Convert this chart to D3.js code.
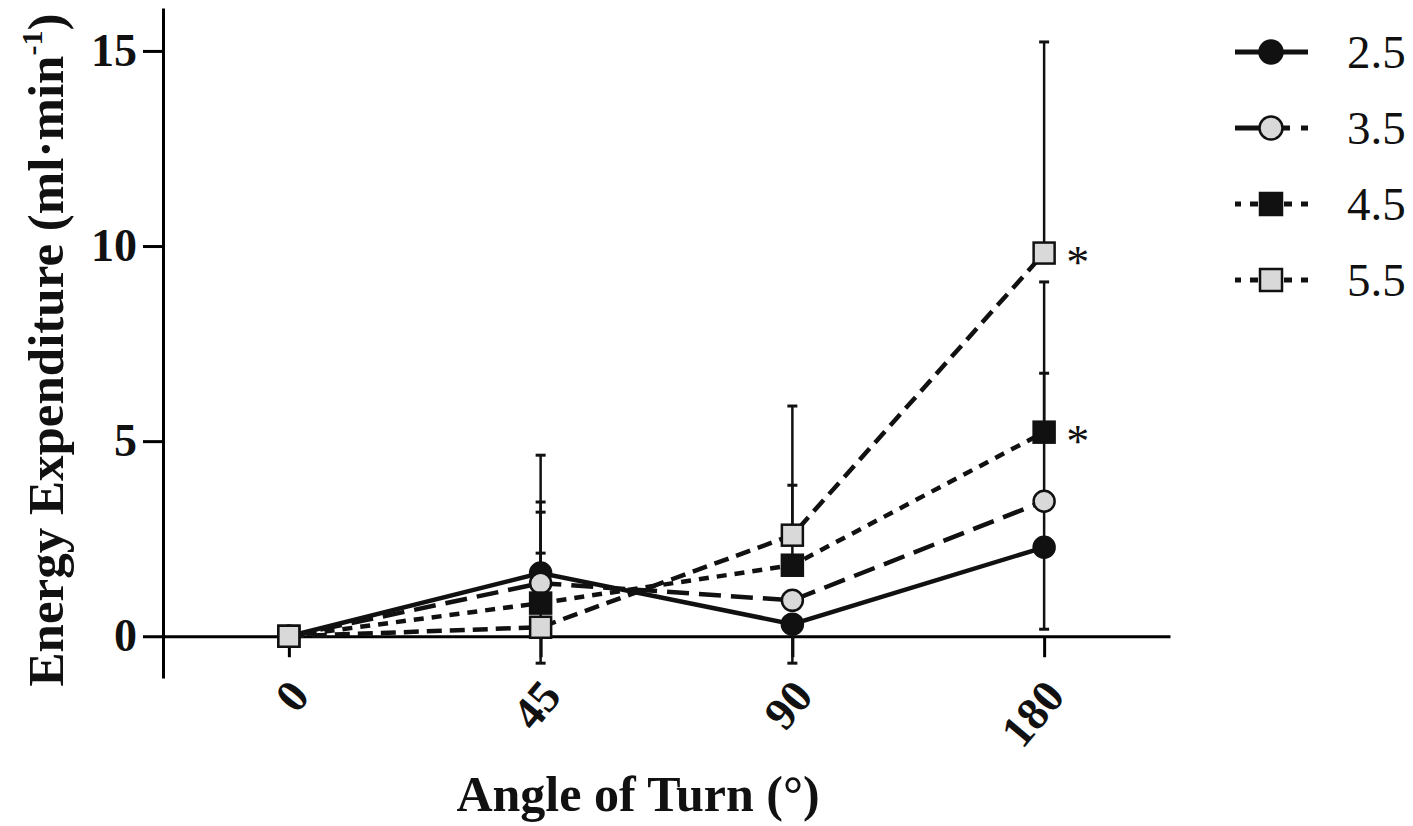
<!DOCTYPE html>
<html>
<head>
<meta charset="utf-8">
<script src="https://cdn.jsdelivr.net/npm/d3@7"></script>
<style>
  body { margin: 0; background: #fff; }
  svg { display: block; }
</style>
</head>
<body>
<div id="chart"></div>
<script>
// angles of turn and the four walking speeds
let angles = ["0", "45", "90", "180"];
let speeds = ["2.5", "3.5", "4.5", "5.5"];

// mean energy expenditure per speed, in angle order
let mean25 = [0, 1.62, 0.31, 2.28];
let mean35 = [0, 1.36, 0.92, 3.46];
let mean45 = [0, 0.85, 1.82, 5.23];
let mean55 = [0, 0.23, 2.59, 9.82];

// error bar ends [low, high]
let err25 = [[0, 0], [1.62, 2.13], [-0.69, 0.31], [2.28, 2.28]];
let err35 = [[0, 0], [1.36, 3.18], [0.92, 0.92], [0.18, 6.74]];
let err45 = [[0, 0], [0.85, 3.44], [1.82, 3.87], [5.23, 9.08]];
let err55 = [[0, 0], [-0.69, 4.64], [2.59, 5.9], [9.82, 15.23]];

let yTicks = [0, 5, 10, 15];
let starred = [{ speed: "4.5", angle: "180" }, { speed: "5.5", angle: "180" }];

let series = [
    { name: "2.5", values: mean25, err: err25, shape: "circle", fill: "#111", dash: null, legendDash: null },
    { name: "3.5", values: mean35, err: err35, shape: "circle", fill: "#d9d9d9", dash: "22,10", legendDash: "55,11" },
    { name: "4.5", values: mean45, err: err45, shape: "square", fill: "#111", dash: "10,8", legendDash: "8,9" },
    { name: "5.5", values: mean55, err: err55, shape: "square", fill: "#d9d9d9", dash: "15,8", legendDash: "8,9" }
];

let W = 1413, H = 826;
let serif = "'Liberation Serif', 'Times New Roman', serif";

let svg = d3.select("#chart").append("svg")
    .attr("width", W)
    .attr("height", H);

let x = d3.scalePoint().domain(angles).range([163, 1170]).padding(0.5);
let y = d3.scaleLinear().domain([-1.07, 16.1]).range([678, 8]);

// y axis
let yAxis = svg.append("g")
    .attr("transform", "translate(163,0)")
    .call(d3.axisLeft(y).tickValues(yTicks).tickSize(20).tickSizeOuter(0).tickPadding(6));
yAxis.select(".domain").attr("stroke-width", 3);
yAxis.selectAll(".tick line").attr("stroke-width", 3);
yAxis.selectAll(".tick text")
    .style("font-family", serif)
    .style("font-weight", "bold")
    .style("font-size", "46px")
    .attr("fill", "#111");

// x axis sits on zero
let xAxis = svg.append("g")
    .attr("transform", "translate(0," + y(0) + ")")
    .call(d3.axisBottom(x).tickSize(21).tickSizeOuter(0).tickPadding(0));
xAxis.select(".domain").attr("stroke-width", 3);
xAxis.selectAll(".tick line").attr("stroke-width", 3);
xAxis.selectAll(".tick text")
    .style("font-family", serif)
    .style("font-weight", "bold")
    .style("font-size", "46px")
    .attr("fill", "#111")
    .attr("text-anchor", "end")
    .attr("y", 0)
    .attr("dy", 0)
    .attr("transform", "translate(22,61) rotate(-50)");

// axis titles
svg.append("text")
    .attr("x", 638)
    .attr("y", 811)
    .attr("text-anchor", "middle")
    .style("font-family", serif)
    .style("font-weight", "bold")
    .style("font-size", "50px")
    .attr("fill", "#111")
    .text("Angle of Turn (°)");

let yTitle = svg.append("text")
    .attr("transform", "translate(63,350) rotate(-90)")
    .attr("text-anchor", "middle")
    .style("font-family", serif)
    .style("font-weight", "bold")
    .style("font-size", "51px")
    .attr("fill", "#111");
yTitle.append("tspan").text("Energy Expenditure (ml·min");
yTitle.append("tspan").attr("dy", "-0.7em").style("font-size", "30px").text("-1");
yTitle.append("tspan").attr("dy", "0.41em").text(")");

// error bars
let capW = 5;
series.forEach(function (s) {
    let g = svg.append("g");
    s.err.forEach(function (e, i) {
        if (e[0] === e[1]) return;
        let cx = x(angles[i]);
        g.append("line")
            .attr("x1", cx).attr("x2", cx)
            .attr("y1", y(e[0])).attr("y2", y(e[1]))
            .attr("stroke", "#111").attr("stroke-width", 2.5);
        e.forEach(function (v) {
            if (v === s.values[i]) return;
            g.append("line")
                .attr("x1", cx - capW).attr("x2", cx + capW)
                .attr("y1", y(v)).attr("y2", y(v))
                .attr("stroke", "#111").attr("stroke-width", 3);
        });
    });
});

// lines
let line = d3.line()
    .x(function (d, i) { return x(angles[i]); })
    .y(function (d) { return y(d); });

series.forEach(function (s) {
    svg.append("path")
        .datum(s.values)
        .attr("d", line)
        .attr("fill", "none")
        .attr("stroke", "#111")
        .attr("stroke-width", 4.5)
        .attr("stroke-dasharray", s.dash);
});

function drawMarker(g, s, cx, cy, r) {
    if (s.shape === "circle") {
        g.append("circle")
            .attr("cx", cx).attr("cy", cy).attr("r", r)
            .attr("fill", s.fill).attr("stroke", "#111").attr("stroke-width", 2.5);
    } else {
        g.append("rect")
            .attr("x", cx - r).attr("y", cy - r)
            .attr("width", 2 * r).attr("height", 2 * r)
            .attr("fill", s.fill).attr("stroke", "#111").attr("stroke-width", 2.5);
    }
}

// markers
series.forEach(function (s) {
    let g = svg.append("g");
    s.values.forEach(function (v, i) {
        drawMarker(g, s, x(angles[i]), y(v), s.shape === "circle" ? 10.5 : 10.5);
    });
});

// significance stars
starred.forEach(function (d) {
    let s = series.find(function (t) { return t.name === d.speed; });
    let v = s.values[angles.indexOf(d.angle)];
    svg.append("text")
        .attr("x", x(d.angle) + 22)
        .attr("y", y(v) + 25)
        .style("font-family", serif)
        .style("font-size", "46px")
        .attr("fill", "#111")
        .text("*");
});

// legend
let legend = svg.append("g").attr("transform", "translate(1235,0)");
series.forEach(function (s, i) {
    let ly = 52 + i * 76;
    let g = legend.append("g");
    g.append("line")
        .attr("x1", 0).attr("x2", 73)
        .attr("y1", ly).attr("y2", ly)
        .attr("stroke", "#111")
        .attr("stroke-width", 5)
        .attr("stroke-dasharray", s.legendDash)
        .attr("stroke-dashoffset", s.name === "3.5" ? 0 : 2);
    drawMarker(g, s, 36, ly, s.shape === "circle" ? 11.5 : 11);
    g.append("text")
        .attr("x", 112)
        .attr("y", ly + 16)
        .style("font-family", serif)
        .style("font-size", "47px")
        .attr("fill", "#111")
        .text(s.name);
});
</script>
</body>
</html>
